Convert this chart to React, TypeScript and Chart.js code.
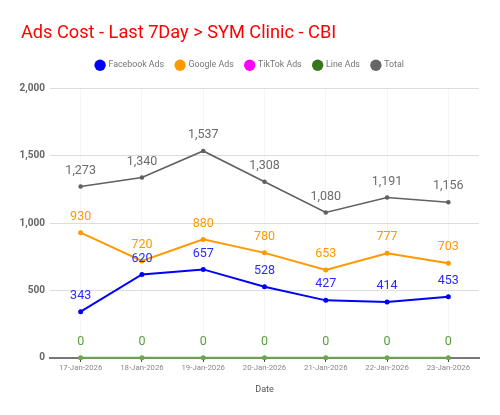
import React, { useEffect, useRef } from "react";
import { Chart, registerables } from "chart.js";

Chart.register(...registerables);

const dates = ["17-Jan-2026", "18-Jan-2026", "19-Jan-2026", "20-Jan-2026", "21-Jan-2026", "22-Jan-2026", "23-Jan-2026"];
const facebookAds = [343, 620, 657, 528, 427, 414, 453];
const googleAds = [930, 720, 880, 780, 653, 777, 703];
const tiktokAds = [0, 0, 0, 0, 0, 0, 0];
const lineAds = [0, 0, 0, 0, 0, 0, 0];
const totalAds = [1273, 1340, 1537, 1308, 1080, 1191, 1156];
const yTicks = [0, 500, 1000, 1500, 2000];

const FONT = "Roboto, 'Noto Sans', sans-serif";

const labelPlugin = {
  id: "valueLabels",
  afterDatasetsDraw(chart: any) {
    const ctx = chart.ctx;
    ctx.save();
    ctx.font = `12.5px ${FONT}`;
    ctx.textAlign = "center";
    ctx.textBaseline = "middle";
    chart.data.datasets.forEach((ds: any, di: number) => {
      const meta = chart.getDatasetMeta(di);
      if (meta.hidden || !ds.showLabels) return;
      ctx.fillStyle = ds.labelColor;
      meta.data.forEach((pt: any, i: number) => {
        const v = ds.data[i];
        ctx.fillText(Number(v).toLocaleString("en-US"), pt.x, pt.y - 16);
      });
    });
    ctx.restore();
  },
};

const layoutTweakPlugin = {
  id: "layoutTweak",
  afterInit(chart: any) {
    const legend = chart.legend;
    if (!legend) return;
    const fit = legend.fit;
    legend.fit = function () {
      fit.call(this);
      this.height += 9;
    };
  },
  afterLayout(chart: any) {
    if (chart.titleBlock) chart.titleBlock.left = 21;
    if (chart.legend) {
      const dx = 21 - chart.legend.left;
      chart.legend.left = 21;
      if (chart.legend.legendHitBoxes) {
        chart.legend.legendHitBoxes.forEach((b: any) => (b.left += dx / 2));
      }
    }
  },
};

export default function App() {
  const ref = useRef<HTMLCanvasElement>(null);
  useEffect(() => {
    if (!ref.current) return;
    const mk = (label: string, data: number[], color: string, labelColor: string, legendColor: string, order: number, width = 2, showLabels = true, clip: any = undefined) => ({
      label,
      data,
      borderColor: color,
      backgroundColor: color,
      pointBackgroundColor: color,
      pointBorderColor: color,
      pointRadius: 1.5,
      pointHoverRadius: 2,
      borderWidth: width,
      tension: 0,
      labelColor,
      legendColor,
      showLabels,
      order,
      ...(clip !== undefined ? { clip } : {}),
    });
    const chart = new Chart(ref.current, {
      type: "line",
      data: {
        labels: dates,
        datasets: [
          mk("Facebook Ads", facebookAds, "#0000ff", "#2a2aff", "#0000ff", 3),
          mk("Google Ads", googleAds, "#ff9900", "#ff9900", "#ff9900", 4),
          { ...mk("TikTok Ads", tiktokAds, "#ff00ff", "#ff00ff", "#ff00ff", 2, 1, false, false), pointRadius: 0 },
          mk("Line Ads", lineAds, "#6aa84f", "#5a9e3c", "#38761d", 1, 2, true, false),
          mk("Total", totalAds, "#616161", "#6b6b6b", "#666666", 5, 1.6),
        ] as any,
      },
      options: {
        animation: false,
        responsive: false,
        maintainAspectRatio: false,
        layout: { padding: { left: 12, right: 21, top: 14, bottom: 20 } },
        plugins: {
          title: {
            display: true,
            text: "Ads Cost - Last 7Day > SYM Clinic - CBI",
            align: "start",
            color: "#ff0000",
            font: { family: FONT, size: 18.2, weight: "normal" },
            padding: { top: 9, bottom: 4 },
          },
          legend: {
            display: true,
            position: "top",
            labels: {
              usePointStyle: true,
              pointStyle: "circle",
              boxWidth: 8,
              boxHeight: 8,
              padding: 12,
              color: "#757575",
              font: { family: FONT, size: 8.8 },
              generateLabels(chart: any) {
                return chart.data.datasets.map((ds: any, i: number) => ({
                  text: ds.label,
                  fillStyle: ds.legendColor,
                  strokeStyle: ds.legendColor,
                  lineWidth: 0,
                  pointStyle: "circle",
                  hidden: !chart.isDatasetVisible(i),
                  datasetIndex: i,
                  fontColor: "#757575",
                }));
              },
            },
          },
          tooltip: { enabled: false },
        },
        scales: {
          x: {
            offset: true,
            grid: {
              display: true,
              color: "rgba(0,0,0,0.04)",
              tickColor: "#333333",
              tickLength: 4,
              drawOnChartArea: true,
            },
            border: { display: true, color: "#777777", width: 2 },
            ticks: {
              color: "#888888",
              font: { family: FONT, size: 7.8 },
              maxRotation: 0,
              padding: 2,
            },
            title: {
              display: true,
              text: "Date",
              color: "#555555",
              font: { family: FONT, size: 9 },
              padding: { top: 9, bottom: 0 },
            },
          },
          y: {
            min: 0,
            max: 2000,
            afterBuildTicks(scale: any) {
              scale.ticks = yTicks.map((v) => ({ value: v }));
            },
            afterFit(scale: any) {
              scale.width = 38;
            },
            grid: { color: "#dddddd", drawTicks: false },
            border: { display: false },
            ticks: {
              color: "#666666",
              font: { family: FONT, size: 10, weight: "bold" },
              padding: 5,
              callback: (v: any) => Number(v).toLocaleString("en-US"),
            },
          },
        },
      } as any,
      plugins: [labelPlugin, layoutTweakPlugin],
    });
    return () => chart.destroy();
  }, []);
  return (
    <div style={{ position: "absolute", left: 0, top: 0, width: 500, height: 415, background: "#fff" }}>
      <canvas ref={ref} width={500} height={415} style={{ width: 500, height: 415 }} />
    </div>
  );
}
